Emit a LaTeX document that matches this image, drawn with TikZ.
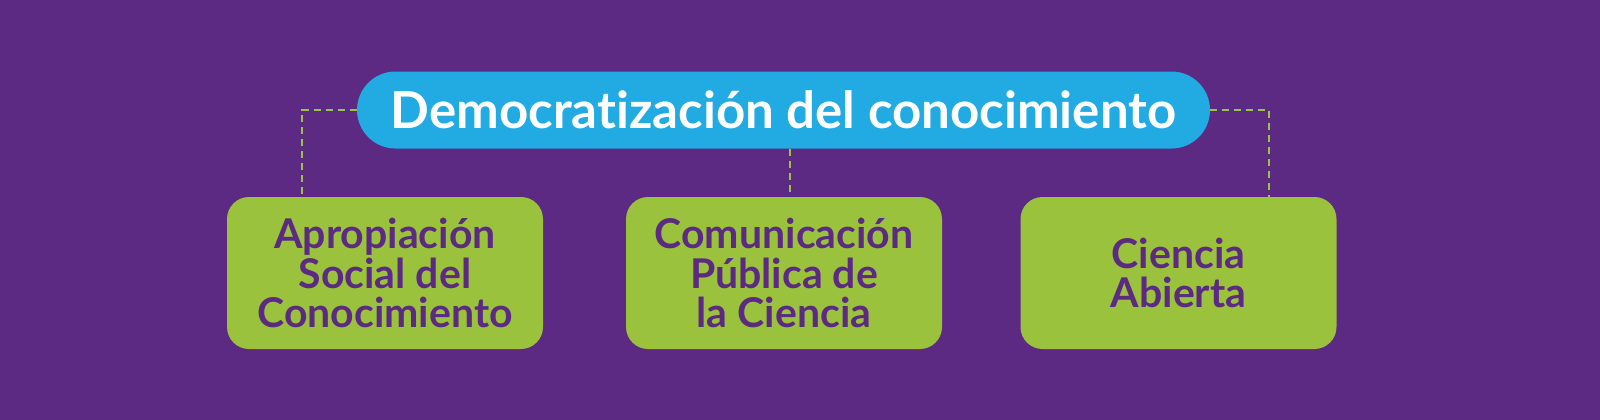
\documentclass[tikz,border=0pt]{standalone}
\usepackage{fontspec}
\setmainfont{Lato}[Ligatures={NoCommon,NoRare}]
\definecolor{bgpurple}{HTML}{5C2A82}
\definecolor{pillblue}{HTML}{22AAE2}
\definecolor{boxgreen}{HTML}{9AC23C}
\definecolor{dashgreen}{HTML}{9DC24A}
\begin{document}
\begin{tikzpicture}[x=1pt,y=-1pt,
  title/.style={fill=pillblue, text=white, rounded corners=38.5pt, minimum width=853pt, minimum height=77pt, inner sep=0pt, font=\fontsize{51}{57}\selectfont\bfseries},
  gbox/.style={fill=boxgreen, text=bgpurple, rounded corners=22pt, minimum width=316pt, minimum height=152pt, inner sep=0pt, align=center, font=\fontsize{41}{39.5}\selectfont\bfseries},
  dashline/.style={draw=dashgreen, line width=2.5pt, dash pattern=on 7pt off 5pt}]
\fill[bgpurple] (0,0) rectangle (1600,420);
\useasboundingbox (0,0) rectangle (1600,420);
\node[title] (t) at (783.5,110) {Democratización del conocimiento};
\node[gbox] (b1) at (385,273) {Apropiación\\Social del\\Conocimiento};
\node[gbox] (b2) at (784,273) {Comunicación\\Pública de\\la Ciencia};
\node[gbox] (b3) at (1178.5,273) {Ciencia\\Abierta};
\coordinate (c1) at (302,197);
\coordinate (c3) at (1269,197);
\coordinate (c2) at (790,197);
\draw[dashline] (t.west) -| (c1);
\draw[dashline] (t.east) -| (c3);
\draw[dashline] (t.south -| c2) -- (c2);
\end{tikzpicture}
\end{document}
